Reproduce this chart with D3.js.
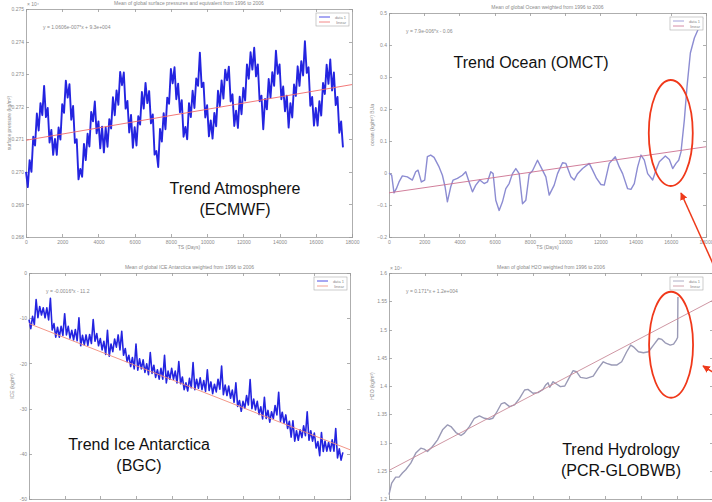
<!DOCTYPE html>
<html>
<head>
<meta charset="utf-8">
<script src="https://cdn.jsdelivr.net/npm/d3@7"></script>
<style>
body{margin:0;background:#fff}
svg text{font-family:"Liberation Sans",Arial,sans-serif}
.axis path,.axis line{stroke:#9a9a9a;stroke-width:0.8;shape-rendering:crispEdges}
.axis text{font-size:5px;fill:#8a8a8a}
.small{font-size:5px;fill:#8a8a8a}
.big{font-size:16px;fill:#111}
</style>
</head>
<body>
<div id="chart"></div>
<script>
// sampling step (days) of the dense series
var STEP=100;
var xTicks=[0,2000,4000,6000,8000,10000,12000,14000,16000,18000];

// atmosphere, in 1e-3 units
var atmValues=[270.00,269.53,270.36,270.00,271.08,270.81,271.79,271.27,272.11,271.74,
272.64,271.68,271.96,270.90,271.29,270.52,271.01,270.52,271.36,270.99,
272.08,271.81,272.80,272.28,272.69,271.60,272.02,270.89,271.00,269.77,
270.09,269.85,270.86,270.36,271.17,270.78,271.84,271.55,272.16,271.18,
271.55,270.72,271.39,270.60,271.36,270.77,271.62,271.33,272.29,271.74,
272.50,272.06,273.07,272.66,273.05,271.94,272.18,271.21,271.75,270.74,
271.37,270.81,271.71,271.45,272.45,271.94,272.73,272.11,272.48,271.49,
271.76,270.53,270.64,270.15,271.32,270.93,271.80,271.31,272.28,272.09,
273.16,272.72,273.21,272.23,272.71,271.83,272.20,271.08,271.38,271.00,
272.11,271.68,272.49,271.96,272.87,272.64,273.66,272.60,272.74,271.67,
272.05,271.09,271.58,271.02,271.81,271.40,272.49,272.02,272.81,272.25,
273.14,272.81,273.23,272.16,272.38,271.41,271.88,271.35,272.31,271.77,
272.58,272.19,273.30,272.86,273.67,273.14,273.81,272.93,273.30,272.17,
272.34,271.31,272.24,271.92,272.85,272.28,273.06,272.64,273.72,273.01,
273.30,272.23,272.62,271.86,272.34,271.36,272.11,271.67,272.68,272.33,
273.24,272.64,273.40,272.96,274.01,273.04,273.21,272.03,272.30,271.42,
271.96,271.42,272.17,271.73,272.73,272.39,273.29,272.70,273.45,272.50,
273.05,272.05,272.30,271.20,271.55,270.75];
var atmTrend=[[0,270.97],[18000,272.68]];
var atmYTicks=[268,269,270,271,272,273,274,275];

// ocean
var oceanDays=[0,152,284,417,569,758,1042,1327,1516,1649,1838,2028,2179,2369,2558,2843,3032,3184,3316,3506,
3638,3885,4169,4359,4548,4738,4927,5154,5401,5590,5780,5912,6064,6254,6443,6633,6822,7012,7201,7391,
7580,7770,7959,8149,8433,8622,8907,9096,9380,9570,9854,10044,10328,10517,10707,10991,11370,11560,11787,12033,
12223,12507,12848,13076,13265,13549,13739,13928,14118,14307,14497,14686,14971,15160,15350,15691,15918,16108,16297,16449,
16581,16771,16922,17112,17339,17624,17813];
var oceanValues=[0.000,-0.007,-0.062,-0.049,-0.028,-0.009,-0.012,-0.022,0.004,0.009,-0.028,-0.022,0.051,0.056,0.049,0.019,-0.007,-0.043,-0.090,-0.043,
-0.022,-0.017,-0.007,0.004,-0.028,-0.059,-0.038,-0.022,-0.033,-0.028,0.004,-0.002,-0.085,-0.117,-0.090,-0.049,-0.033,-0.002,0.014,-0.002,
-0.096,-0.085,-0.004,0.007,0.040,0.019,-0.012,-0.069,-0.038,-0.002,0.032,0.030,-0.012,-0.022,-0.002,0.014,0.030,0.009,-0.017,-0.036,
-0.038,0.030,0.051,0.019,-0.002,-0.049,-0.051,-0.033,0.019,0.056,0.040,-0.002,-0.022,0.009,0.035,0.053,0.042,0.014,0.030,0.040,
0.066,0.166,0.270,0.375,0.422,0.458,0.484];
var oceanTrend=[[0,-0.062],[18000,0.082]];
var oceanYTicks=[-0.2,-0.1,0,0.1,0.2,0.3,0.4,0.5];

// ice antarctica
var iceValues=[-10.3,-12.3,-9.6,-11.4,-5.9,-9.9,-7.4,-9.3,-7.7,-9.9,
-7.7,-10.4,-5.6,-12.6,-11.2,-14.2,-12.0,-14.2,-11.8,-13.8,
-9.0,-13.7,-11.8,-14.4,-12.7,-14.8,-12.5,-15.0,-9.9,-16.1,
-13.8,-15.9,-13.7,-16.0,-13.6,-15.6,-10.3,-15.1,-13.4,-16.1,
-14.5,-17.0,-15.1,-18.0,-12.7,-18.4,-15.7,-17.4,-14.6,-16.4,
-13.7,-17.0,-12.9,-18.2,-16.7,-19.6,-18.2,-20.7,-18.7,-21.2,
-15.7,-21.5,-19.0,-21.2,-19.2,-22.0,-20.1,-22.5,-17.6,-22.2,
-20.4,-23.1,-21.4,-23.5,-21.1,-23.5,-18.2,-24.3,-21.7,-23.5,
-21.1,-23.5,-21.7,-24.3,-19.6,-24.5,-23.0,-25.8,-24.3,-26.1,
-23.3,-25.4,-19.8,-25.8,-23.5,-25.5,-23.2,-25.8,-23.8,-26.2,
-21.4,-26.0,-24.1,-26.7,-24.6,-26.3,-23.5,-25.7,-20.6,-26.9,
-24.8,-27.1,-25.0,-27.7,-25.9,-28.6,-24.3,-29.5,-28.2,-30.6,
-28.4,-29.9,-27.1,-29.2,-23.6,-30.0,-27.9,-30.3,-28.4,-31.3,
-29.6,-32.3,-27.5,-32.2,-30.4,-33.0,-30.7,-32.2,-29.3,-31.4,
-26.4,-32.8,-30.8,-33.2,-31.4,-34.4,-32.8,-36.3,-32.7,-37.2,
-34.9,-37.0,-34.7,-36.4,-33.8,-36.0,-30.7,-37.0,-34.9,-37.2,
-35.4,-38.7,-37.3,-40.4,-35.3,-39.5,-37.2,-39.4,-37.5,-39.4,
-36.9,-39.4,-34.4,-40.9,-38.9,-41.4,-39.7];
var iceTrend=[[0,-11.2],[18000,-39.1]];
var iceYTicks=[-50,-40,-30,-20,-10,0];

// hydrology
var hydroDays=[0,149,372,558,744,930,1209,1488,1767,1953,2139,2418,2697,2976,3255,3441,3720,3999,4185,4464,
4743,5022,5301,5580,5766,5952,6231,6417,6696,6975,7254,7533,7719,7998,8277,8556,8705,8835,8928,9114,
9300,9523,9765,10044,10230,10416,10639,10974,11346,11625,11904,12090,12369,12648,12927,13206,13429,13578,13857,14136,
14415,14694,14973,15159,15345,15624,15810,15959,16033,16052];
var hydroValues=[1.2076,1.2282,1.2388,1.2388,1.2459,1.2518,1.2635,1.2812,1.2900,1.2882,1.2841,1.2929,1.3047,1.3224,1.3312,1.3282,1.3176,1.3124,1.3165,1.3282,
1.3429,1.3471,1.3429,1.3412,1.3429,1.3518,1.3682,1.3706,1.3635,1.3665,1.3782,1.3929,1.3941,1.3871,1.3882,1.3941,1.4018,1.4059,1.3976,1.4076,
1.4035,1.3988,1.4000,1.4165,1.4271,1.4253,1.4153,1.4135,1.4176,1.4312,1.4429,1.4400,1.4371,1.4371,1.4429,1.4606,1.4724,1.4694,1.4606,1.4588,
1.4606,1.4724,1.4841,1.4824,1.4765,1.4724,1.4741,1.4812,1.4859,1.5576];
var hydroTrend=[[0,1.2506],[18000,1.5518]];
var hydroYTicks=[1.2,1.25,1.3,1.35,1.4,1.45,1.5,1.55,1.6];

var width=712,height=502;
var svg=d3.select('#chart').append('svg')
	.attr('width',width)
	.attr('height',height);

svg.append('defs').append('marker')
	.attr('id','head')
	.attr('viewBox','0 0 10 10')
	.attr('refX',9).attr('refY',5)
	.attr('markerWidth',5).attr('markerHeight',5)
	.attr('orient','auto')
	.append('path').attr('d','M0,0L10,5L0,10z').attr('fill','#ee3a1a');

var panels=[
	{box:{l:26,r:352,t:9,b:237},yDomain:[268,275],yTicks:atmYTicks,fmt:function(d){return (d/1000).toFixed(3);},
	 data:atmValues.map(function(v,i){return [i*STEP,v];}),trend:atmTrend,color:'#2424e0',lw:1.9,trendColor:'#f06a6a',
	 title:'Mean of global surface pressures and equivalent from 1996 to 2006',titleY:5,mult:'× 10⁴',
	 eq:'y = 1.0606e-007*x + 9.3e+004',ylabel:'surface pressure (kg/m²)',xlabel:true,
	 big:['Trend Atmosphere','(ECMWF)'],bigX:235,bigY:[194,215]},
	{box:{l:389,r:706,t:13,b:237},yDomain:[-0.2,0.5],yTicks:oceanYTicks,fmt:function(d){return d3.format('')(+d.toFixed(1));},
	 data:oceanDays.map(function(d,i){return [d,oceanValues[i]];}),trend:oceanTrend,color:'#8c8cd2',lw:1.4,trendColor:'#cc7090',
	 title:'Mean of global Ocean weighted from 1996 to 2006',titleY:9,
	 eq:'y = 7.9e-006*x - 0.06',ylabel:'ocean (kg/m²) BUa',xlabel:true,
	 big:['Trend Ocean (OMCT)'],bigX:531,bigY:[68],
	 ellipse:{day:16000,v:0.125,rx:22,ry:53}},
	{box:{l:29,r:350,t:273,b:499},yDomain:[-50,0],yTicks:iceYTicks,fmt:function(d){return d;},
	 data:iceValues.map(function(v,i){return [i*STEP,v];}),trend:iceTrend,color:'#2424e0',lw:1.6,trendColor:'#f08a7a',
	 title:'Mean of global ICE Antarctica weighted from 1996 to 2006',titleY:269,
	 eq:'y = -0.0016*x - 11.2',ylabel:'ICE (kg/m²)',xlabel:false,
	 big:['Trend Ice Antarctica','(BGC)'],bigX:139,bigY:[450,471]},
	{box:{l:389,r:713,t:273,b:499},yDomain:[1.2,1.6],yTicks:hydroYTicks,fmt:function(d){return d3.format('')(+d.toFixed(2));},
	 data:hydroDays.map(function(d,i){return [d,hydroValues[i]];}),trend:hydroTrend,color:'#9a9ab6',lw:1.4,trendColor:'#c88a98',
	 title:'Mean of global H2O weighted from 1996 to 2006',titleY:269,mult:'× 10⁴',
	 eq:'y = 0.171*x + 1.2e+004',ylabel:'H2O (kg/m²)',xlabel:false,
	 big:['Trend Hydrology','(PCR-GLOBWB)'],bigX:621,bigY:[455,476],
	 ellipse:{day:15670,v:1.473,rx:22,ry:53}}
];

panels.forEach(drawPanel);

function drawPanel(p){
	var b=p.box;
	var x=d3.scaleLinear().domain([0,18000]).range([b.l,b.r]);
	var y=d3.scaleLinear().domain(p.yDomain).range([b.b,b.t]);
	var g=svg.append('g');

	// bottom row: tick labels fall below the picture edge, so only tick marks
	g.append('g').attr('class','axis')
		.attr('transform','translate(0,'+b.b+')')
		.call(d3.axisBottom(x).tickValues(xTicks).tickSizeInner(-3).tickSizeOuter(0).tickPadding(3)
			.tickFormat(p.xlabel?d3.format('d'):''));
	g.append('g').attr('class','axis')
		.attr('transform','translate(0,'+b.t+')')
		.call(d3.axisTop(x).tickValues(xTicks).tickSizeInner(-3).tickSizeOuter(0).tickFormat(''));
	g.append('g').attr('class','axis')
		.attr('transform','translate('+b.l+',0)')
		.call(d3.axisLeft(y).tickValues(p.yTicks).tickSizeInner(-3).tickSizeOuter(0).tickPadding(2).tickFormat(p.fmt));
	g.append('g').attr('class','axis')
		.attr('transform','translate('+b.r+',0)')
		.call(d3.axisRight(y).tickValues(p.yTicks).tickSizeInner(-3).tickSizeOuter(0).tickFormat(''));

	var line=d3.line()
		.x(function(d){return x(d[0]);})
		.y(function(d){return y(d[1]);});

	g.append('path')
		.datum(p.data)
		.attr('d',line)
		.attr('fill','none')
		.attr('stroke',p.color)
		.attr('stroke-width',p.lw)
		.attr('stroke-linejoin','round');
	g.append('path')
		.datum(p.trend)
		.attr('d',line)
		.attr('fill','none')
		.attr('stroke',p.trendColor)
		.attr('stroke-width',0.9);

	//标题和小字
	g.append('text').attr('class','small')
		.attr('x',(b.l+b.r)/2).attr('y',p.titleY)
		.attr('text-anchor','middle').text(p.title);
	g.append('text').attr('class','small')
		.attr('x',b.l+17).attr('y',b.t+20).text(p.eq);
	if(p.mult){
		g.append('text').attr('class','small')
			.attr('x',b.l+1).attr('y',b.t-3).text(p.mult);
	}
	g.append('text').attr('class','small')
		.attr('transform','translate('+(b.l-15)+','+((b.t+b.b)/2)+') rotate(-90)')
		.attr('text-anchor','middle').text(p.ylabel);
	if(p.xlabel){
		g.append('text').attr('class','small')
			.attr('x',(b.l+b.r)/2).attr('y',b.b+12)
			.attr('text-anchor','middle').text('TS (Days)');
	}

	//图例
	var lg=g.append('g').attr('transform','translate('+(Math.min(b.r,706)-36)+','+(b.t+4)+')');
	lg.append('rect').attr('width',33).attr('height',13)
		.attr('fill','#fff').attr('stroke','#aaa').attr('stroke-width',0.6);
	[[p.color,'data 1'],[p.trendColor,'linear']].forEach(function(it,i){
		lg.append('line').attr('x1',3).attr('x2',14).attr('y1',4+i*5).attr('y2',4+i*5)
			.attr('stroke',it[0]).attr('stroke-width',0.8);
		lg.append('text').attr('class','small').style('font-size','4px')
			.attr('x',30).attr('y',5.5+i*5).attr('text-anchor','end').text(it[1]);
	});

	p.big.forEach(function(t,i){
		g.append('text').attr('class','big')
			.attr('x',p.bigX).attr('y',p.bigY[i])
			.attr('text-anchor','middle').text(t);
	});

	if(p.ellipse){
		g.append('ellipse')
			.attr('cx',x(p.ellipse.day)).attr('cy',y(p.ellipse.v))
			.attr('rx',p.ellipse.rx).attr('ry',p.ellipse.ry)
			.attr('fill','none').attr('stroke','#f0381a').attr('stroke-width',1.8);
	}
}

//箭头
var arrows=[[[714,266],[681,193]],[[714,373],[703,366]]];
arrows.forEach(function(a){
	svg.append('line')
		.attr('x1',a[0][0]).attr('y1',a[0][1])
		.attr('x2',a[1][0]).attr('y2',a[1][1])
		.attr('stroke','#ee3a1a').attr('stroke-width',1.5)
		.attr('marker-end','url(#head)');
});
</script>
</body>
</html>
